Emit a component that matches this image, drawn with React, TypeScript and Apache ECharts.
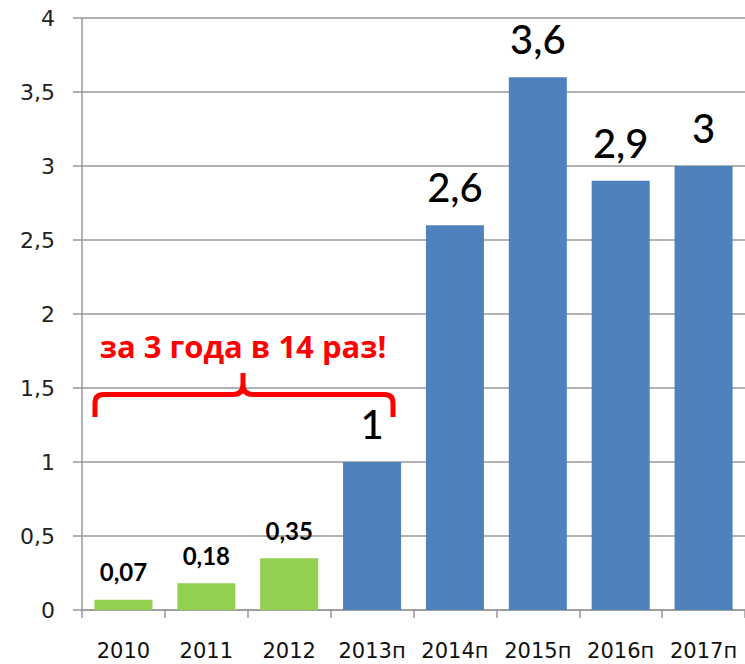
import React, { useEffect, useRef } from "react";
import * as echarts from "echarts";

const categories = ["2010", "2011", "2012", "2013п", "2014п", "2015п", "2016п", "2017п"];
const values = [0.07, 0.18, 0.35, 1, 2.6, 3.6, 2.9, 3];
const isGreen = [true, true, true, false, false, false, false, false];
const annotation = "за 3 года в 14 раз!";

const GREEN = "#92D050";
const BLUE = "#4F81BD";

const bracePath =
  "M95,417 L95,403 Q95,394.5 103.5,394.5 L233,394.5 Q243,394.5 243,384 L243,373 M243,384 Q243,394.5 253,394.5 L384.5,394.5 Q393,394.5 393,403 L393,417";

echarts.graphic.registerShape("brace", echarts.graphic.extendPath(bracePath, {}));

export default function App() {
  const ref = useRef<HTMLDivElement>(null);
  useEffect(() => {
    if (!ref.current) return;
    document.body.style.margin = "0";
    const chart = echarts.init(ref.current, undefined, { renderer: "svg" });
    const data = values.map((v, i) => {
      const small = isGreen[i];
      return {
        value: v,
        itemStyle: { color: small ? GREEN : BLUE },
        label: {
          fontSize: small ? 24 : 40,
          fontWeight: small ? "bold" : 500,
          distance: small ? 16 : 18,
        },
      };
    });
    chart.setOption({
      animation: false,
      grid: { left: 82, right: 0, top: 18, bottom: 54, containLabel: false },
      xAxis: {
        type: "category",
        data: categories,
        axisLine: { lineStyle: { color: "#999", width: 1.5 } },
        axisTick: { show: true, length: 8, lineStyle: { color: "#999", width: 1.5 } },
        axisLabel: {
          interval: 0,
          color: "#111",
          fontFamily: "DejaVu Sans",
          fontSize: 21,
          margin: 30,
        },
      },
      yAxis: {
        type: "value",
        min: 0,
        max: 4,
        interval: 0.5,
        axisLine: { show: true, lineStyle: { color: "#999", width: 1.5 } },
        axisTick: { show: true, length: 9, lineStyle: { color: "#999", width: 1.5 } },
        splitLine: { show: true, lineStyle: { color: "#999", width: 1.5 } },
        axisLabel: {
          color: "#222",
          fontFamily: "DejaVu Sans",
          fontSize: 22,
          margin: 27,
          formatter: (v: number) => String(v).replace(".", ","),
        },
      },
      series: [
        {
          type: "bar",
          data,
          barCategoryGap: "30%",
          label: {
            show: true,
            position: "top",
            color: "#000",
            fontFamily: "Lato",
            formatter: (p: any) => String(p.value).replace(".", ","),
          },
        },
      ],
      graphic: [
        {
          type: "brace",
          x: 0,
          y: 0,
          style: { stroke: "#FF0000", fill: "none", lineWidth: 5 },
          z: 100,
        },
        {
          type: "text",
          x: 243,
          y: 346,
          style: {
            text: annotation,
            fill: "#FF0000",
            fontFamily: "Open Sans",
            fontWeight: "bold",
            fontSize: 31,
            textAlign: "center",
            textVerticalAlign: "middle",
          },
          z: 100,
        },
      ],
    });
    return () => chart.dispose();
  }, []);
  return <div ref={ref} style={{ width: 745, height: 664 }} />;
}
